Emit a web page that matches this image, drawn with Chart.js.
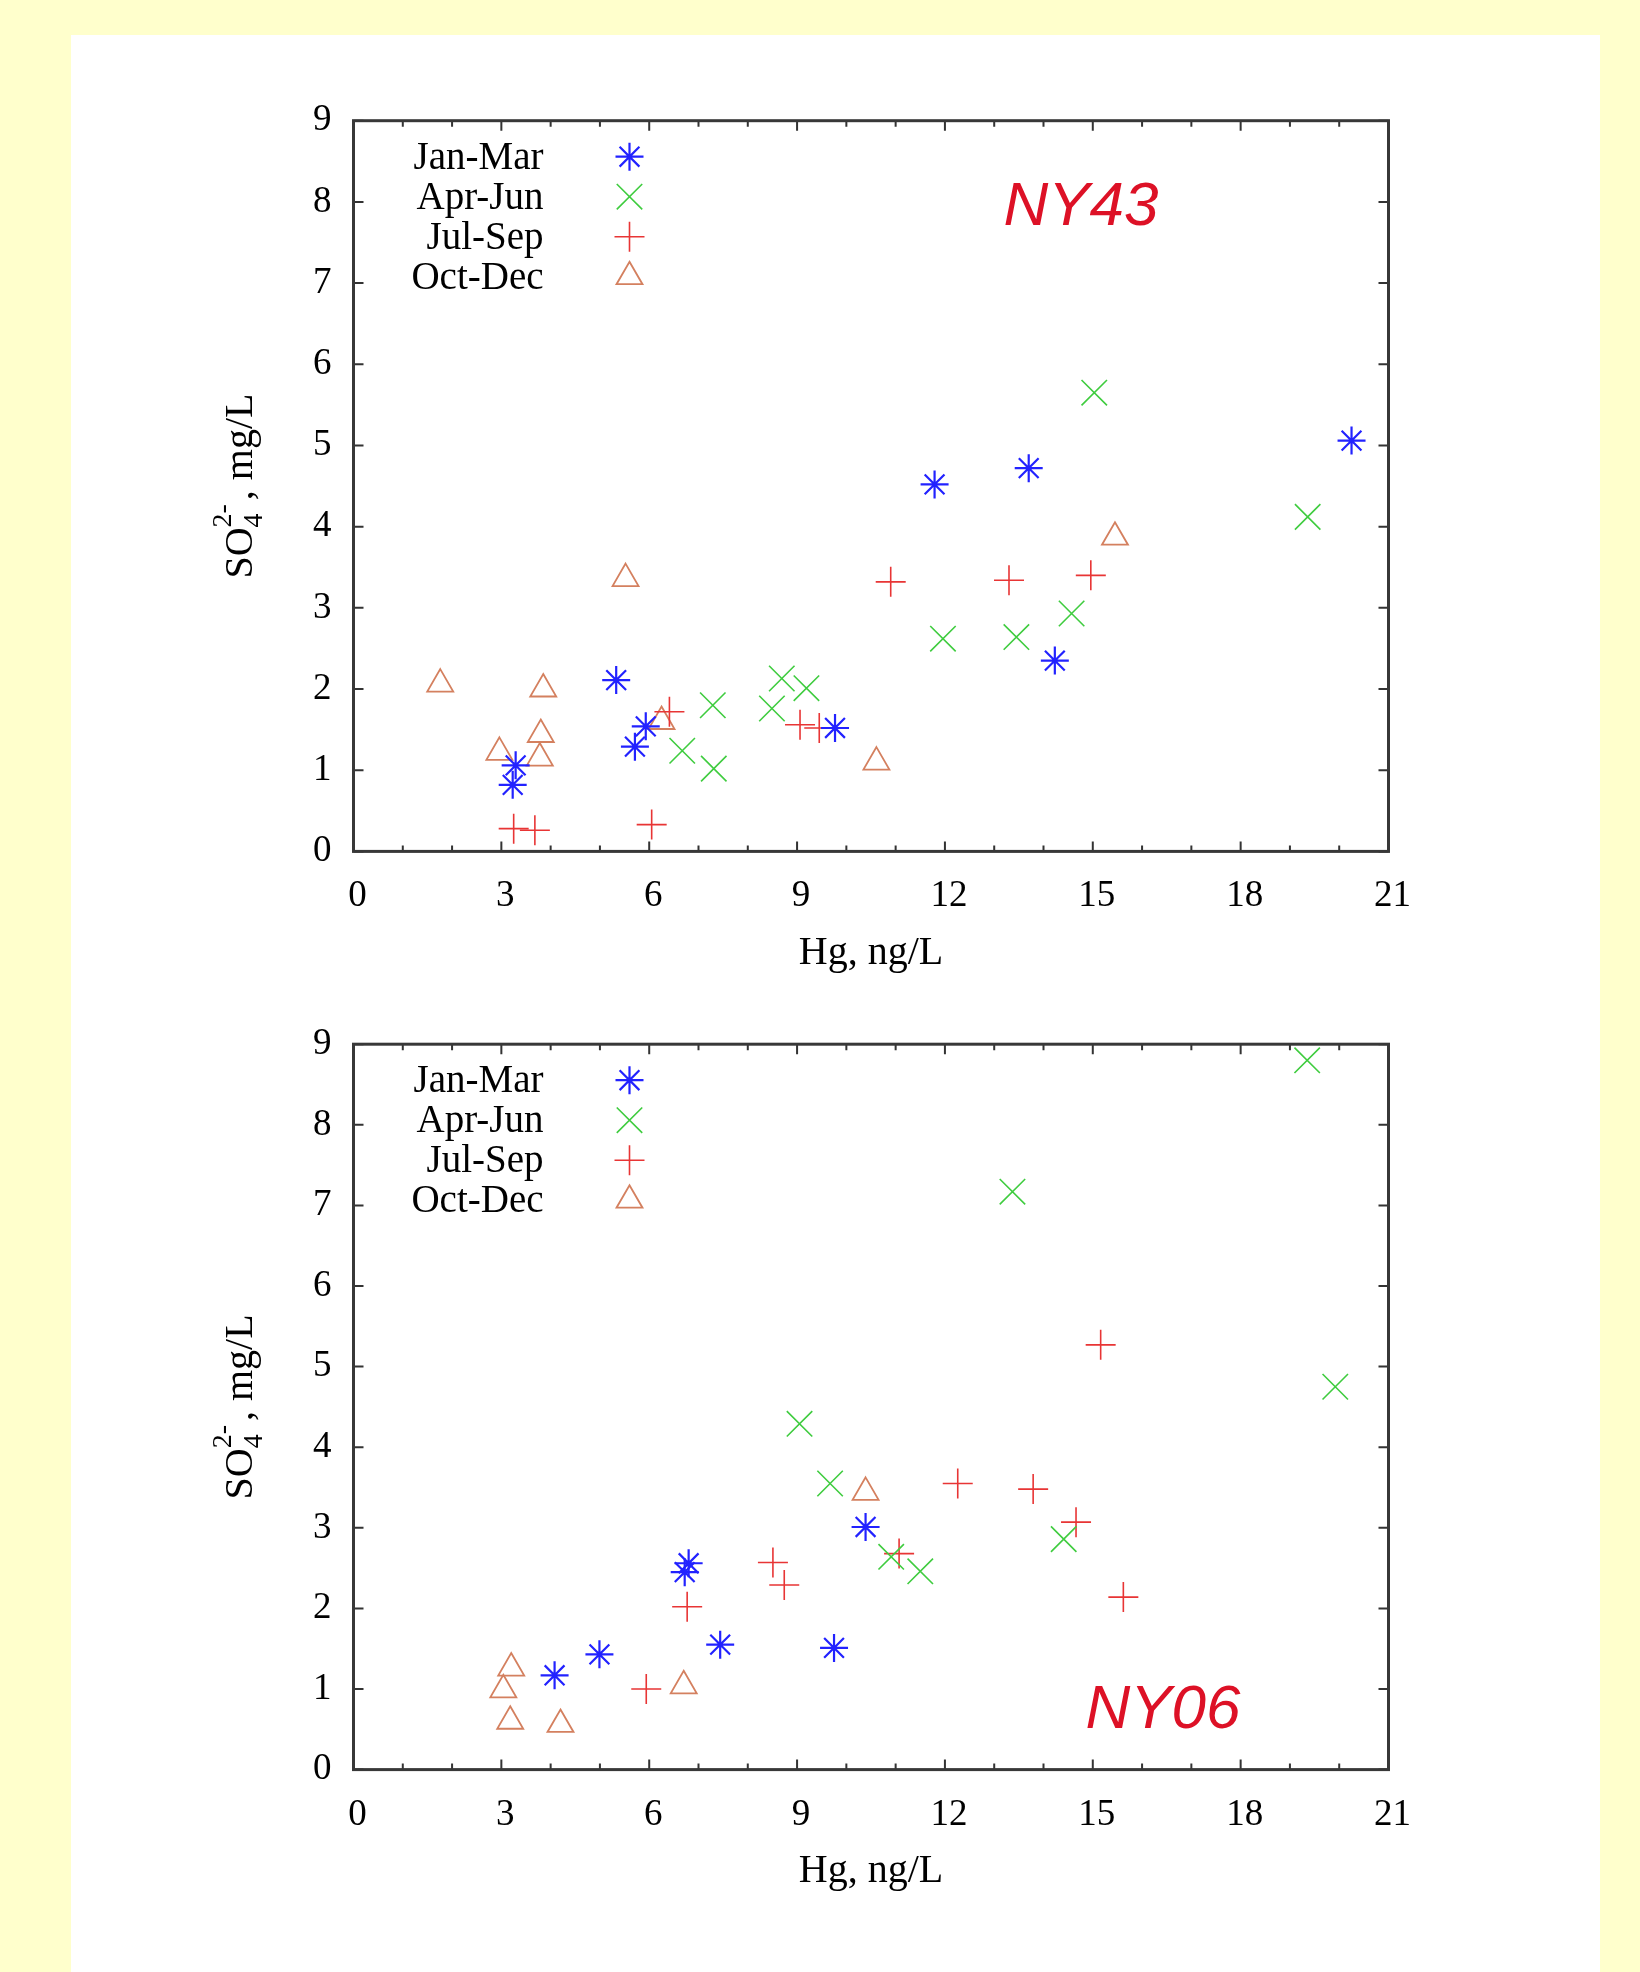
<!DOCTYPE html>
<html><head><meta charset="utf-8">
<script src="https://cdn.jsdelivr.net/npm/chart.js@4.4.1/dist/chart.umd.min.js"></script>
<style>
html,body{margin:0;padding:0;background:#ffffcc;}
body{width:1640px;height:1972px;position:relative;overflow:hidden;}
#panel{position:absolute;left:71px;top:35px;width:1529px;height:1937px;background:#fff;}
canvas{position:absolute;left:0;}
#c1{top:0}
#c2{top:1000px}
</style></head><body>
<div id="panel"></div>
<canvas id="c1" width="1640" height="1000"></canvas>
<canvas id="c2" width="1640" height="972"></canvas>
<script>
// ---- data (Hg ng/L, SO4 mg/L) ----
const SERIES_LABELS = ['Jan-Mar', 'Apr-Jun', 'Jul-Sep', 'Oct-Dec'];
const X_TICKS = [0, 3, 6, 9, 12, 15, 18, 21];
const Y_TICKS = [0, 1, 2, 3, 4, 5, 6, 7, 8, 9];
const X_TITLE = 'Hg, ng/L';

const NY43_JAN_MAR = [[3.23,0.82],[3.29,1.06],[5.33,2.11],[5.71,1.29],[5.93,1.54],[9.77,1.52],[11.79,4.52],[13.70,4.72],[14.23,2.35],[20.25,5.06]];
const NY43_APR_JUN = [[6.67,1.24],[7.29,1.80],[7.31,1.02],[8.49,1.76],[8.69,2.13],[9.19,2.01],[11.96,2.62],[13.45,2.64],[14.57,2.93],[15.03,5.65],[19.36,4.12]];
const NY43_JUL_SEP = [[3.25,0.28],[3.68,0.26],[6.05,0.33],[6.41,1.72],[9.06,1.56],[9.45,1.52],[10.90,3.32],[13.30,3.34],[14.96,3.40]];
const NY43_OCT_DEC = [[1.76,2.06],[2.96,1.22],[3.78,1.15],[3.80,1.44],[3.85,2.00],[5.52,3.36],[6.25,1.60],[10.61,1.10],[15.45,3.87]];

const NY06_JAN_MAR = [[4.08,1.17],[4.99,1.43],[6.72,2.45],[6.80,2.56],[7.44,1.55],[9.75,1.51],[10.39,3.01]];
const NY06_APR_JUN = [[9.05,4.29],[9.67,3.55],[10.91,2.64],[11.50,2.46],[13.37,7.17],[14.41,2.86],[19.35,8.80],[19.92,4.75]];
const NY06_JUL_SEP = [[5.94,1.00],[6.77,2.02],[8.51,2.57],[8.74,2.29],[11.07,2.68],[12.26,3.55],[13.79,3.48],[14.66,3.07],[15.16,5.27],[15.62,2.14]];
const NY06_OCT_DEC = [[3.04,0.99],[3.18,0.60],[3.20,1.26],[4.20,0.56],[6.70,1.04],[10.39,3.44]];

// ---- styles ----
const STYLES = [
  {pointStyle:'star',     radius:14, color:'#2222ff', width:2.2},
  {pointStyle:'crossRot', radius:18, color:'#3fcc3f', width:1.6},
  {pointStyle:'cross',    radius:15, color:'#e83535', width:1.6},
  {pointStyle:'triangle', radius:15, color:'#d4805f', width:1.8}
];
const SERIF = '"Liberation Serif", "Times New Roman", serif';
const TEXT_COLOR = '#000';

function makeDatasets(list) {
  return list.map((arr, i) => ({
    label: SERIES_LABELS[i],
    data: arr.map(p => ({x: p[0], y: p[1]})),
    showLine: false,
    pointStyle: STYLES[i].pointStyle,
    pointRadius: STYLES[i].radius,
    pointHoverRadius: STYLES[i].radius,
    pointBorderWidth: STYLES[i].width,
    pointBorderColor: STYLES[i].color,
    pointBackgroundColor: 'rgba(0,0,0,0)',
    clip: false
  }));
}

const framePlugin = {
  id: 'frame',
  beforeDatasetsDraw(chart) {
    const ctx = chart.ctx, a = chart.chartArea, xs = chart.scales.x, ys = chart.scales.y;
    ctx.save();
    ctx.strokeStyle = '#333';
    ctx.lineWidth = 2;
    ctx.beginPath();
    for (let v = 0; v <= 21; v += 1) {
      const px = xs.getPixelForValue(v);
      const len = (v % 3 === 0) ? 10 : 6;
      ctx.moveTo(px, a.bottom); ctx.lineTo(px, a.bottom - len);
      ctx.moveTo(px, a.top); ctx.lineTo(px, a.top + len);
    }
    Y_TICKS.forEach(v => {
      const py = ys.getPixelForValue(v);
      ctx.moveTo(a.left, py); ctx.lineTo(a.left + 10, py);
      ctx.moveTo(a.right, py); ctx.lineTo(a.right - 10, py);
    });
    ctx.stroke();
    ctx.lineWidth = 3;
    ctx.strokeStyle = '#383838';
    ctx.strokeRect(a.left, a.top, a.right - a.left, a.bottom - a.top);
    ctx.restore();
  },
  afterDraw(chart, args, opts) {
    const ctx = chart.ctx, a = chart.chartArea;
    ctx.save();
    // legend
    chart.data.datasets.forEach((ds, i) => {
      const y = a.top + 36 + i * 40;
      ctx.font = '39px ' + SERIF;
      ctx.textAlign = 'right';
      ctx.textBaseline = 'middle';
      ctx.fillStyle = TEXT_COLOR;
      ctx.fillText(ds.label, a.left + 190, y + 2);
      ctx.strokeStyle = ds.pointBorderColor;
      ctx.fillStyle = 'rgba(0,0,0,0)';
      ctx.lineWidth = ds.pointBorderWidth;
      Chart.helpers.drawPoint(ctx, {pointStyle: ds.pointStyle, radius: ds.pointRadius, rotation: 0, borderWidth: ds.pointBorderWidth}, a.left + 276, y);
    });
    // x title
    ctx.fillStyle = TEXT_COLOR;
    ctx.font = '40px ' + SERIF;
    ctx.textAlign = 'center';
    ctx.textBaseline = 'middle';
    ctx.fillText(X_TITLE, (a.left + a.right) / 2, a.bottom + 102);
    // y title with sub/superscript
    ctx.translate(a.left - 115, (a.top + a.bottom) / 2);
    ctx.rotate(-Math.PI / 2);
    const big = '40px ' + SERIF, small = '28px ' + SERIF;
    ctx.font = big;
    const w1 = ctx.measureText('SO').width, w3 = ctx.measureText(', mg/L').width;
    ctx.font = small;
    const w2 = Math.max(ctx.measureText('4').width, ctx.measureText('2-').width);
    const total = w1 + w2 + w3 + 4;
    let x = -total / 2;
    const base = 13;
    ctx.textAlign = 'left';
    ctx.textBaseline = 'alphabetic';
    ctx.font = big; ctx.fillText('SO', x, base); x += w1;
    ctx.font = small; ctx.fillText('4', x, base + 10); ctx.fillText('2-', x, base - 21); x += w2 + 4;
    ctx.font = big; ctx.fillText(', mg/L', x, base);
    ctx.restore();
    // site label
    ctx.save();
    ctx.font = 'italic 62px "Liberation Sans", Arial, sans-serif';
    ctx.fillStyle = '#dd1126';
    ctx.textAlign = 'center';
    ctx.textBaseline = 'middle';
    ctx.fillText(opts.site, opts.sx, opts.sy);
    ctx.restore();
  }
};

function makeChart(id, list, pad, site, sx, sy) {
  return new Chart(document.getElementById(id), {
    type: 'scatter',
    data: {datasets: makeDatasets(list)},
    plugins: [framePlugin],
    options: {
      responsive: false,
      animation: false,
      events: [],
      layout: {padding: pad},
      plugins: {legend: {display: false}, tooltip: {enabled: false}, frame: {site: site, sx: sx, sy: sy}},
      scales: {
        x: {
          type: 'linear', min: X_TICKS[0], max: X_TICKS[X_TICKS.length - 1],
          afterBuildTicks(s) { s.ticks = X_TICKS.map(v => ({value: v})); },
          ticks: {font: {family: SERIF, size: 37}, color: TEXT_COLOR, padding: 23, labelOffset: 4, maxRotation: 0, autoSkip: false},
          grid: {display: false, drawTicks: false},
          border: {display: false},
          afterFit(s) { s.height = 100; }
        },
        y: {
          type: 'linear', min: Y_TICKS[0], max: Y_TICKS[Y_TICKS.length - 1],
          afterBuildTicks(s) { s.ticks = Y_TICKS.map(v => ({value: v})); },
          ticks: {font: {family: SERIF, size: 37}, color: TEXT_COLOR, padding: 22, autoSkip: false},
          grid: {display: false, drawTicks: false},
          border: {display: false},
          afterFit(s) { s.width = 100; }
        }
      }
    }
  });
}

makeChart('c1', [NY43_JAN_MAR, NY43_APR_JUN, NY43_JUL_SEP, NY43_OCT_DEC],
  {left: 253.5, right: 251.5, top: 120.7, bottom: 48.6}, 'NY43', 1081, 208);
makeChart('c2', [NY06_JAN_MAR, NY06_APR_JUN, NY06_JUL_SEP, NY06_OCT_DEC],
  {left: 253.5, right: 251.5, top: 37.5, bottom: 102.4}, 'NY06', 1163, 711);
</script>
</body></html>
